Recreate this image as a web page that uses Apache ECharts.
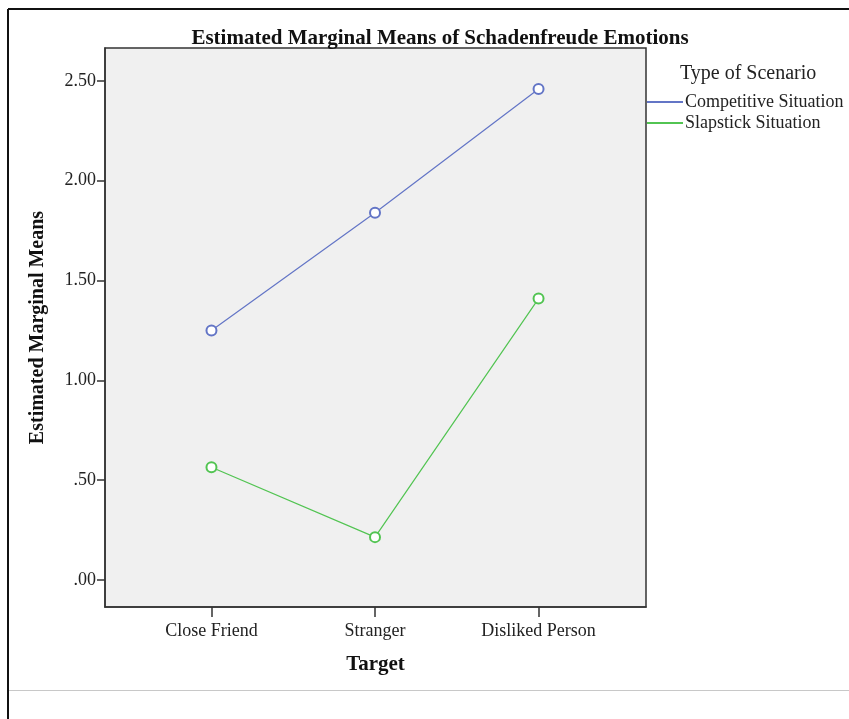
<!DOCTYPE html>
<html>
<head>
<meta charset="utf-8">
<script src="https://cdn.jsdelivr.net/npm/echarts@6/dist/echarts.min.js"></script>
<style>
html,body{margin:0;padding:0;background:#fff;}
#chart{width:849px;height:719px;}
</style>
</head>
<body>
<div id="chart"></div>
<script>
const categories = ['Close Friend', 'Stranger', 'Disliked Person'];
const seriesNames = ['Competitive Situation', 'Slapstick Situation'];
const competitive = [1.25, 1.84, 2.46];
const slapstick = [0.565, 0.215, 1.41];
const yTicks = [0, 0.5, 1, 1.5, 2, 2.5];
const yTickLabels = ['.00', '.50', '1.00', '1.50', '2.00', '2.50'];

const FONT = "'Liberation Serif', 'Times New Roman', serif";
const colors = ['#6375c6', '#52c452'];

function toPoints(vals) { return vals.map((v, i) => [i, v]); }

const chart = echarts.init(document.getElementById('chart'), null, {renderer: 'canvas'});
chart.setOption({
  animation: false,
  backgroundColor: '#fff',
  color: colors,
  title: [
    {text: 'Estimated Marginal Means of Schadenfreude Emotions', left: 435, top: 23, textAlign: 'center',
     textStyle: {fontFamily: FONT, fontWeight: 'bold', fontSize: 21, color: '#111'}},
    {text: 'Type of Scenario', left: 675, top: 59,
     textStyle: {fontFamily: FONT, fontWeight: 'normal', fontSize: 20, color: '#222'}}
  ],
  legend: {
    orient: 'vertical', left: 647, top: 93, itemGap: 3, itemWidth: 36, itemHeight: 2,
    icon: 'rect', padding: 0,
    data: seriesNames,
    textStyle: {fontFamily: FONT, fontSize: 18, color: '#222', padding: [0, 0, 0, -3]}
  },
  grid: {left: 105, top: 48, right: 203, bottom: 112, show: true, backgroundColor: '#f0f0f0',
         borderColor: '#333', borderWidth: 1.5},
  xAxis: {
    type: 'value', min: -0.651, max: 2.657,
    name: 'Target', nameLocation: 'middle', nameGap: 47,
    nameTextStyle: {fontFamily: FONT, fontWeight: 'bold', fontSize: 21, color: '#111'},
    axisLine: {show: true, onZero: false, lineStyle: {color: '#333', width: 1.5}},
    splitLine: {show: false},
    axisTick: {show: true, customValues: [0, 1, 2], length: 10, lineStyle: {color: '#333', width: 1.5}},
    axisLabel: {customValues: [0, 1, 2], margin: 15, formatter: v => categories[Math.round(v)] || '',
                fontFamily: FONT, fontSize: 18, color: '#222'}
  },
  yAxis: {
    type: 'value', min: -0.135, max: 2.665,
    name: 'Estimated Marginal Means', nameLocation: 'middle', nameGap: 57, nameRotate: 90,
    nameTextStyle: {fontFamily: FONT, fontWeight: 'bold', fontSize: 20, color: '#111'},
    axisLine: {show: true, onZero: false, lineStyle: {color: '#333', width: 1.5}},
    splitLine: {show: false},
    axisTick: {show: true, customValues: yTicks, length: 8, lineStyle: {color: '#333', width: 1.5}},
    axisLabel: {customValues: yTicks, margin: 9,
                formatter: v => { const i = yTicks.findIndex(t => Math.abs(t - v) < 1e-6); return i >= 0 ? yTickLabels[i] : ''; },
                fontFamily: FONT, fontSize: 18, color: '#222'}
  },
  series: [
    {name: seriesNames[0], type: 'line', data: toPoints(competitive), symbol: 'emptyCircle', symbolSize: 10,
     lineStyle: {width: 1.2, color: colors[0]}, itemStyle: {color: colors[0], borderWidth: 1.2}},
    {name: seriesNames[1], type: 'line', data: toPoints(slapstick), symbol: 'emptyCircle', symbolSize: 10,
     lineStyle: {width: 1.2, color: colors[1]}, itemStyle: {color: colors[1], borderWidth: 1.2}}
  ],
  graphic: [
    {type: 'line', shape: {x1: 8, y1: 9, x2: 849, y2: 9}, style: {stroke: '#111', lineWidth: 2}},
    {type: 'line', shape: {x1: 8, y1: 9, x2: 8, y2: 719}, style: {stroke: '#111', lineWidth: 2}},
    {type: 'line', shape: {x1: 9, y1: 690.5, x2: 849, y2: 690.5}, style: {stroke: '#c8c8c8', lineWidth: 1}}
  ]
});
</script>
</body>
</html>
